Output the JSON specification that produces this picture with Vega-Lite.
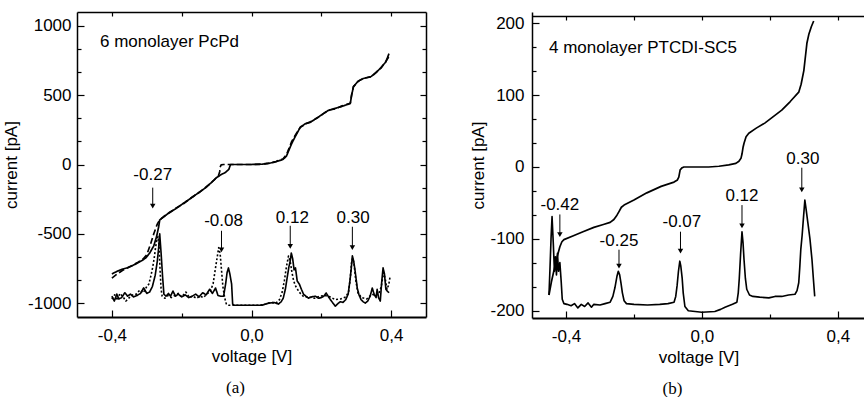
{
  "$schema": "https://vega.github.io/schema/vega-lite/v6.json",
  "background": "white",
  "padding": {"left": 2, "top": 11, "right": 0, "bottom": 0},
  "config": {
    "view": {"stroke": null},
    "font": "Liberation Sans",
    "axis": {"domainColor": "black", "domainWidth": 1.5, "tickColor": "black", "tickWidth": 1.2, "grid": false,
      "labelFont": "Liberation Sans", "labelFontSize": 17, "labelColor": "black", "labelOverlap": false, "labelFlush": false,
      "titleFont": "Liberation Sans", "titleFontSize": 17, "titleFontWeight": "normal", "titleColor": "black"},
    "title": {"font": "Liberation Serif", "fontSize": 17, "fontWeight": "normal", "color": "black"}
  },
  "spacing": 42,
  "datasets": {
    "a_curves": [
      {"v": -0.400, "I": -790, "s": "iv"}, {"v": -0.385, "I": -770, "s": "iv"}, {"v": -0.370, "I": -755, "s": "iv"}, {"v": -0.355, "I": -745, "s": "iv"},
      {"v": -0.343, "I": -732, "s": "iv"}, {"v": -0.330, "I": -715, "s": "iv"}, {"v": -0.315, "I": -695, "s": "iv"}, {"v": -0.303, "I": -674, "s": "iv"},
      {"v": -0.292, "I": -640, "s": "iv"}, {"v": -0.280, "I": -587, "s": "iv"}, {"v": -0.272, "I": -520, "s": "iv"}, {"v": -0.266, "I": -450, "s": "iv"},
      {"v": -0.263, "I": -400, "s": "iv"}, {"v": -0.250, "I": -375, "s": "iv"}, {"v": -0.235, "I": -345, "s": "iv"}, {"v": -0.217, "I": -319, "s": "iv"},
      {"v": -0.195, "I": -280, "s": "iv"}, {"v": -0.171, "I": -239, "s": "iv"}, {"v": -0.150, "I": -200, "s": "iv"}, {"v": -0.131, "I": -167, "s": "iv"},
      {"v": -0.115, "I": -130, "s": "iv"}, {"v": -0.100, "I": -94, "s": "iv"}, {"v": -0.085, "I": -70, "s": "iv"}, {"v": -0.075, "I": -58, "s": "iv"},
      {"v": -0.065, "I": -35, "s": "iv"}, {"v": -0.060, "I": 0, "s": "iv"}, {"v": -0.040, "I": 0, "s": "iv"}, {"v": 0.000, "I": 0, "s": "iv"},
      {"v": 0.030, "I": 2, "s": "iv"}, {"v": 0.050, "I": 8, "s": "iv"}, {"v": 0.070, "I": 20, "s": "iv"}, {"v": 0.090, "I": 36, "s": "iv"},
      {"v": 0.100, "I": 60, "s": "iv"}, {"v": 0.110, "I": 120, "s": "iv"}, {"v": 0.115, "I": 150, "s": "iv"}, {"v": 0.125, "I": 200, "s": "iv"},
      {"v": 0.140, "I": 270, "s": "iv"}, {"v": 0.155, "I": 295, "s": "iv"}, {"v": 0.169, "I": 305, "s": "iv"}, {"v": 0.190, "I": 340, "s": "iv"},
      {"v": 0.220, "I": 390, "s": "iv"}, {"v": 0.240, "I": 405, "s": "iv"}, {"v": 0.260, "I": 420, "s": "iv"}, {"v": 0.283, "I": 440, "s": "iv"},
      {"v": 0.287, "I": 500, "s": "iv"}, {"v": 0.292, "I": 560, "s": "iv"}, {"v": 0.305, "I": 600, "s": "iv"}, {"v": 0.320, "I": 620, "s": "iv"},
      {"v": 0.343, "I": 635, "s": "iv"}, {"v": 0.360, "I": 670, "s": "iv"}, {"v": 0.371, "I": 700, "s": "iv"}, {"v": 0.385, "I": 740, "s": "iv"},
      {"v": 0.394, "I": 800, "s": "iv"},

      {"v": -0.400, "I": -820, "s": "ivd"}, {"v": -0.385, "I": -790, "s": "ivd"}, {"v": -0.370, "I": -765, "s": "ivd"}, {"v": -0.355, "I": -745, "s": "ivd"},
      {"v": -0.340, "I": -725, "s": "ivd"}, {"v": -0.325, "I": -705, "s": "ivd"}, {"v": -0.310, "I": -680, "s": "ivd"}, {"v": -0.300, "I": -650, "s": "ivd"},
      {"v": -0.290, "I": -580, "s": "ivd"}, {"v": -0.280, "I": -500, "s": "ivd"}, {"v": -0.270, "I": -430, "s": "ivd"}, {"v": -0.263, "I": -400, "s": "ivd"},
      {"v": -0.250, "I": -372, "s": "ivd"}, {"v": -0.235, "I": -348, "s": "ivd"}, {"v": -0.217, "I": -315, "s": "ivd"}, {"v": -0.195, "I": -283, "s": "ivd"},
      {"v": -0.171, "I": -236, "s": "ivd"}, {"v": -0.150, "I": -203, "s": "ivd"}, {"v": -0.131, "I": -164, "s": "ivd"}, {"v": -0.115, "I": -132, "s": "ivd"},
      {"v": -0.100, "I": -94, "s": "ivd"}, {"v": -0.094, "I": -75, "s": "ivd"}, {"v": -0.091, "I": -50, "s": "ivd"}, {"v": -0.090, "I": -20, "s": "ivd"},
      {"v": -0.087, "I": -3, "s": "ivd"}, {"v": -0.080, "I": 0, "s": "ivd"}, {"v": 0.000, "I": 0, "s": "ivd"}, {"v": 0.030, "I": 3, "s": "ivd"},
      {"v": 0.050, "I": 10, "s": "ivd"}, {"v": 0.070, "I": 22, "s": "ivd"}, {"v": 0.090, "I": 40, "s": "ivd"}, {"v": 0.100, "I": 70, "s": "ivd"},
      {"v": 0.108, "I": 120, "s": "ivd"}, {"v": 0.115, "I": 165, "s": "ivd"}, {"v": 0.125, "I": 210, "s": "ivd"}, {"v": 0.140, "I": 268, "s": "ivd"},
      {"v": 0.155, "I": 292, "s": "ivd"}, {"v": 0.169, "I": 308, "s": "ivd"}, {"v": 0.190, "I": 338, "s": "ivd"}, {"v": 0.220, "I": 392, "s": "ivd"},
      {"v": 0.240, "I": 402, "s": "ivd"}, {"v": 0.260, "I": 423, "s": "ivd"}, {"v": 0.283, "I": 442, "s": "ivd"}, {"v": 0.287, "I": 505, "s": "ivd"},
      {"v": 0.292, "I": 562, "s": "ivd"}, {"v": 0.305, "I": 598, "s": "ivd"}, {"v": 0.320, "I": 622, "s": "ivd"}, {"v": 0.343, "I": 632, "s": "ivd"},
      {"v": 0.360, "I": 672, "s": "ivd"}, {"v": 0.371, "I": 695, "s": "ivd"}, {"v": 0.385, "I": 745, "s": "ivd"}, {"v": 0.397, "I": 790, "s": "ivd"},

      {"v": -0.400, "I": -950, "s": "g"}, {"v": -0.393, "I": -985, "s": "g"}, {"v": -0.386, "I": -935, "s": "g"}, {"v": -0.380, "I": -970, "s": "g"},
      {"v": -0.372, "I": -960, "s": "g"}, {"v": -0.363, "I": -925, "s": "g"}, {"v": -0.355, "I": -950, "s": "g"}, {"v": -0.347, "I": -935, "s": "g"},
      {"v": -0.338, "I": -955, "s": "g"}, {"v": -0.328, "I": -945, "s": "g"}, {"v": -0.318, "I": -930, "s": "g"}, {"v": -0.309, "I": -890, "s": "g"},
      {"v": -0.300, "I": -930, "s": "g"}, {"v": -0.292, "I": -920, "s": "g"}, {"v": -0.284, "I": -880, "s": "g"}, {"v": -0.276, "I": -800, "s": "g"},
      {"v": -0.270, "I": -700, "s": "g"}, {"v": -0.266, "I": -600, "s": "g"}, {"v": -0.263, "I": -500, "s": "g"}, {"v": -0.259, "I": -640, "s": "g"},
      {"v": -0.255, "I": -800, "s": "g"}, {"v": -0.251, "I": -935, "s": "g"}, {"v": -0.245, "I": -950, "s": "g"}, {"v": -0.238, "I": -930, "s": "g"},
      {"v": -0.232, "I": -950, "s": "g"}, {"v": -0.225, "I": -913, "s": "g"}, {"v": -0.218, "I": -950, "s": "g"}, {"v": -0.210, "I": -935, "s": "g"},
      {"v": -0.200, "I": -955, "s": "g"}, {"v": -0.190, "I": -940, "s": "g"}, {"v": -0.180, "I": -960, "s": "g"}, {"v": -0.170, "I": -950, "s": "g"},
      {"v": -0.160, "I": -935, "s": "g"}, {"v": -0.150, "I": -955, "s": "g"}, {"v": -0.140, "I": -925, "s": "g"}, {"v": -0.130, "I": -940, "s": "g"},
      {"v": -0.120, "I": -900, "s": "g"}, {"v": -0.112, "I": -930, "s": "g"}, {"v": -0.103, "I": -891, "s": "g"}, {"v": -0.096, "I": -945, "s": "g"},
      {"v": -0.088, "I": -950, "s": "g"}, {"v": -0.080, "I": -950, "s": "g"}, {"v": -0.074, "I": -860, "s": "g"}, {"v": -0.070, "I": -780, "s": "g"},
      {"v": -0.066, "I": -746, "s": "g"}, {"v": -0.062, "I": -790, "s": "g"}, {"v": -0.057, "I": -862, "s": "g"}, {"v": -0.054, "I": -1007, "s": "g"},
      {"v": -0.050, "I": -1015, "s": "g"}, {"v": 0.000, "I": -1015, "s": "g"}, {"v": 0.030, "I": -1015, "s": "g"}, {"v": 0.049, "I": -1000, "s": "g"},
      {"v": 0.065, "I": -995, "s": "g"}, {"v": 0.077, "I": -1007, "s": "g"}, {"v": 0.085, "I": -990, "s": "g"}, {"v": 0.091, "I": -964, "s": "g"},
      {"v": 0.097, "I": -900, "s": "g"}, {"v": 0.102, "I": -820, "s": "g"}, {"v": 0.107, "I": -740, "s": "g"}, {"v": 0.111, "I": -696, "s": "g"},
      {"v": 0.114, "I": -638, "s": "g"}, {"v": 0.118, "I": -680, "s": "g"}, {"v": 0.122, "I": -760, "s": "g"}, {"v": 0.126, "I": -746, "s": "g"},
      {"v": 0.131, "I": -841, "s": "g"}, {"v": 0.137, "I": -862, "s": "g"}, {"v": 0.143, "I": -900, "s": "g"}, {"v": 0.149, "I": -935, "s": "g"},
      {"v": 0.156, "I": -950, "s": "g"}, {"v": 0.163, "I": -964, "s": "g"}, {"v": 0.172, "I": -955, "s": "g"}, {"v": 0.183, "I": -950, "s": "g"},
      {"v": 0.192, "I": -965, "s": "g"}, {"v": 0.200, "I": -960, "s": "g"}, {"v": 0.207, "I": -950, "s": "g"}, {"v": 0.214, "I": -927, "s": "g"},
      {"v": 0.222, "I": -960, "s": "g"}, {"v": 0.229, "I": -985, "s": "g"}, {"v": 0.235, "I": -1005, "s": "g"}, {"v": 0.240, "I": -1022, "s": "g"},
      {"v": 0.247, "I": -1005, "s": "g"}, {"v": 0.254, "I": -990, "s": "g"}, {"v": 0.262, "I": -995, "s": "g"}, {"v": 0.270, "I": -975, "s": "g"},
      {"v": 0.277, "I": -935, "s": "g"}, {"v": 0.282, "I": -840, "s": "g"}, {"v": 0.286, "I": -746, "s": "g"}, {"v": 0.289, "I": -659, "s": "g"},
      {"v": 0.293, "I": -700, "s": "g"}, {"v": 0.297, "I": -770, "s": "g"}, {"v": 0.303, "I": -891, "s": "g"}, {"v": 0.308, "I": -940, "s": "g"},
      {"v": 0.314, "I": -975, "s": "g"}, {"v": 0.320, "I": -990, "s": "g"}, {"v": 0.326, "I": -1000, "s": "g"}, {"v": 0.333, "I": -985, "s": "g"},
      {"v": 0.340, "I": -950, "s": "g"}, {"v": 0.346, "I": -891, "s": "g"}, {"v": 0.352, "I": -940, "s": "g"}, {"v": 0.357, "I": -960, "s": "g"},
      {"v": 0.360, "I": -900, "s": "g"}, {"v": 0.364, "I": -960, "s": "g"}, {"v": 0.369, "I": -985, "s": "g"}, {"v": 0.373, "I": -850, "s": "g"},
      {"v": 0.377, "I": -746, "s": "g"}, {"v": 0.381, "I": -790, "s": "g"}, {"v": 0.385, "I": -900, "s": "g"}, {"v": 0.389, "I": -913, "s": "g"},
      {"v": 0.394, "I": -925, "s": "g"},

      {"v": -0.400, "I": -970, "s": "gd"}, {"v": -0.392, "I": -940, "s": "gd"}, {"v": -0.385, "I": -980, "s": "gd"}, {"v": -0.377, "I": -930, "s": "gd"},
      {"v": -0.368, "I": -955, "s": "gd"}, {"v": -0.360, "I": -985, "s": "gd"}, {"v": -0.350, "I": -960, "s": "gd"}, {"v": -0.340, "I": -940, "s": "gd"},
      {"v": -0.330, "I": -935, "s": "gd"}, {"v": -0.320, "I": -905, "s": "gd"}, {"v": -0.310, "I": -925, "s": "gd"}, {"v": -0.300, "I": -880, "s": "gd"},
      {"v": -0.294, "I": -862, "s": "gd"}, {"v": -0.288, "I": -800, "s": "gd"}, {"v": -0.283, "I": -740, "s": "gd"}, {"v": -0.279, "I": -680, "s": "gd"},
      {"v": -0.275, "I": -600, "s": "gd"}, {"v": -0.271, "I": -540, "s": "gd"}, {"v": -0.268, "I": -520, "s": "gd"}, {"v": -0.265, "I": -580, "s": "gd"},
      {"v": -0.262, "I": -760, "s": "gd"}, {"v": -0.259, "I": -900, "s": "gd"}, {"v": -0.256, "I": -950, "s": "gd"}, {"v": -0.248, "I": -965, "s": "gd"},
      {"v": -0.240, "I": -945, "s": "gd"}, {"v": -0.230, "I": -960, "s": "gd"}, {"v": -0.220, "I": -945, "s": "gd"}, {"v": -0.210, "I": -930, "s": "gd"},
      {"v": -0.200, "I": -955, "s": "gd"}, {"v": -0.188, "I": -920, "s": "gd"}, {"v": -0.178, "I": -960, "s": "gd"}, {"v": -0.168, "I": -950, "s": "gd"},
      {"v": -0.158, "I": -965, "s": "gd"}, {"v": -0.148, "I": -950, "s": "gd"}, {"v": -0.138, "I": -960, "s": "gd"}, {"v": -0.128, "I": -935, "s": "gd"},
      {"v": -0.118, "I": -915, "s": "gd"}, {"v": -0.110, "I": -860, "s": "gd"}, {"v": -0.104, "I": -760, "s": "gd"}, {"v": -0.099, "I": -680, "s": "gd"},
      {"v": -0.094, "I": -600, "s": "gd"}, {"v": -0.090, "I": -640, "s": "gd"}, {"v": -0.086, "I": -760, "s": "gd"}, {"v": -0.082, "I": -880, "s": "gd"},
      {"v": -0.077, "I": -960, "s": "gd"}, {"v": -0.072, "I": -1007, "s": "gd"}, {"v": -0.065, "I": -1015, "s": "gd"}, {"v": 0.020, "I": -1015, "s": "gd"},
      {"v": 0.040, "I": -1008, "s": "gd"}, {"v": 0.055, "I": -995, "s": "gd"}, {"v": 0.070, "I": -1000, "s": "gd"}, {"v": 0.080, "I": -975, "s": "gd"},
      {"v": 0.088, "I": -920, "s": "gd"}, {"v": 0.094, "I": -840, "s": "gd"}, {"v": 0.100, "I": -740, "s": "gd"}, {"v": 0.106, "I": -660, "s": "gd"},
      {"v": 0.111, "I": -700, "s": "gd"}, {"v": 0.116, "I": -780, "s": "gd"}, {"v": 0.121, "I": -841, "s": "gd"}, {"v": 0.127, "I": -880, "s": "gd"},
      {"v": 0.133, "I": -905, "s": "gd"}, {"v": 0.140, "I": -930, "s": "gd"}, {"v": 0.150, "I": -955, "s": "gd"}, {"v": 0.165, "I": -955, "s": "gd"},
      {"v": 0.180, "I": -965, "s": "gd"}, {"v": 0.195, "I": -950, "s": "gd"}, {"v": 0.210, "I": -945, "s": "gd"}, {"v": 0.225, "I": -955, "s": "gd"},
      {"v": 0.240, "I": -975, "s": "gd"}, {"v": 0.255, "I": -970, "s": "gd"}, {"v": 0.270, "I": -955, "s": "gd"}, {"v": 0.278, "I": -920, "s": "gd"},
      {"v": 0.283, "I": -820, "s": "gd"}, {"v": 0.287, "I": -700, "s": "gd"}, {"v": 0.290, "I": -675, "s": "gd"}, {"v": 0.294, "I": -720, "s": "gd"},
      {"v": 0.299, "I": -840, "s": "gd"}, {"v": 0.305, "I": -925, "s": "gd"}, {"v": 0.315, "I": -960, "s": "gd"}, {"v": 0.330, "I": -970, "s": "gd"},
      {"v": 0.345, "I": -935, "s": "gd"}, {"v": 0.355, "I": -945, "s": "gd"}, {"v": 0.365, "I": -930, "s": "gd"}, {"v": 0.372, "I": -880, "s": "gd"},
      {"v": 0.378, "I": -780, "s": "gd"}, {"v": 0.383, "I": -820, "s": "gd"}, {"v": 0.388, "I": -900, "s": "gd"}, {"v": 0.393, "I": -870, "s": "gd"},
      {"v": 0.397, "I": -810, "s": "gd"}
    ],
    "a_ann": [
      {"v": -0.283, "top": -167, "tip": -300, "tv": -0.283, "ty": -78, "label": "-0.27"},
      {"v": -0.086, "top": -478, "tip": -615, "tv": -0.080, "ty": -406, "label": "-0.08"},
      {"v": 0.111, "top": -442, "tip": -590, "tv": 0.117, "ty": -388, "label": "0.12"},
      {"v": 0.289, "top": -449, "tip": -600, "tv": 0.291, "ty": -388, "label": "0.30"}
    ],
    "b_curves": [
      {"v": -0.450, "I": -178, "s": "iv"}, {"v": -0.443, "I": -160, "s": "iv"}, {"v": -0.435, "I": -143, "s": "iv"}, {"v": -0.430, "I": -132, "s": "iv"},
      {"v": -0.426, "I": -125, "s": "iv"}, {"v": -0.422, "I": -118, "s": "iv"}, {"v": -0.418, "I": -111, "s": "iv"}, {"v": -0.412, "I": -104, "s": "iv"},
      {"v": -0.406, "I": -101, "s": "iv"}, {"v": -0.380, "I": -96, "s": "iv"}, {"v": -0.350, "I": -90, "s": "iv"}, {"v": -0.318, "I": -84, "s": "iv"},
      {"v": -0.290, "I": -80, "s": "iv"}, {"v": -0.270, "I": -77, "s": "iv"}, {"v": -0.259, "I": -73, "s": "iv"}, {"v": -0.250, "I": -67, "s": "iv"},
      {"v": -0.244, "I": -62, "s": "iv"}, {"v": -0.237, "I": -56, "s": "iv"}, {"v": -0.229, "I": -53, "s": "iv"}, {"v": -0.200, "I": -46, "s": "iv"},
      {"v": -0.162, "I": -36, "s": "iv"}, {"v": -0.120, "I": -27, "s": "iv"}, {"v": -0.082, "I": -21, "s": "iv"}, {"v": -0.072, "I": -18, "s": "iv"},
      {"v": -0.068, "I": -14, "s": "iv"}, {"v": -0.064, "I": -4, "s": "iv"}, {"v": -0.058, "I": -1, "s": "iv"}, {"v": -0.053, "I": 0, "s": "iv"},
      {"v": 0.000, "I": 0, "s": "iv"}, {"v": 0.020, "I": 0, "s": "iv"}, {"v": 0.050, "I": 1, "s": "iv"}, {"v": 0.079, "I": 3, "s": "iv"},
      {"v": 0.100, "I": 5, "s": "iv"}, {"v": 0.109, "I": 8, "s": "iv"}, {"v": 0.115, "I": 12, "s": "iv"}, {"v": 0.118, "I": 18, "s": "iv"},
      {"v": 0.121, "I": 27, "s": "iv"}, {"v": 0.124, "I": 33, "s": "iv"}, {"v": 0.130, "I": 42, "s": "iv"}, {"v": 0.138, "I": 47, "s": "iv"},
      {"v": 0.160, "I": 54, "s": "iv"}, {"v": 0.185, "I": 61, "s": "iv"}, {"v": 0.210, "I": 70, "s": "iv"}, {"v": 0.235, "I": 79, "s": "iv"},
      {"v": 0.260, "I": 91, "s": "iv"}, {"v": 0.285, "I": 104, "s": "iv"}, {"v": 0.292, "I": 115, "s": "iv"}, {"v": 0.300, "I": 134, "s": "iv"},
      {"v": 0.305, "I": 155, "s": "iv"}, {"v": 0.309, "I": 172, "s": "iv"}, {"v": 0.315, "I": 185, "s": "iv"}, {"v": 0.322, "I": 195, "s": "iv"},
      {"v": 0.329, "I": 203, "s": "iv"},

      {"v": -0.450, "I": -178, "s": "g"}, {"v": -0.447, "I": -140, "s": "g"}, {"v": -0.444, "I": -100, "s": "g"}, {"v": -0.441, "I": -69, "s": "g"},
      {"v": -0.437, "I": -110, "s": "g"}, {"v": -0.434, "I": -145, "s": "g"}, {"v": -0.431, "I": -125, "s": "g"}, {"v": -0.428, "I": -150, "s": "g"},
      {"v": -0.425, "I": -120, "s": "g"}, {"v": -0.422, "I": -145, "s": "g"}, {"v": -0.418, "I": -133, "s": "g"}, {"v": -0.414, "I": -160, "s": "g"},
      {"v": -0.411, "I": -184, "s": "g"}, {"v": -0.406, "I": -190, "s": "g"}, {"v": -0.397, "I": -191, "s": "g"}, {"v": -0.385, "I": -193, "s": "g"},
      {"v": -0.375, "I": -190, "s": "g"}, {"v": -0.365, "I": -196, "s": "g"}, {"v": -0.355, "I": -191, "s": "g"}, {"v": -0.345, "I": -194, "s": "g"},
      {"v": -0.335, "I": -189, "s": "g"}, {"v": -0.325, "I": -195, "s": "g"}, {"v": -0.318, "I": -191, "s": "g"}, {"v": -0.300, "I": -192, "s": "g"},
      {"v": -0.285, "I": -190, "s": "g"}, {"v": -0.270, "I": -188, "s": "g"}, {"v": -0.262, "I": -180, "s": "g"}, {"v": -0.256, "I": -168, "s": "g"},
      {"v": -0.250, "I": -152, "s": "g"}, {"v": -0.246, "I": -145, "s": "g"}, {"v": -0.242, "I": -150, "s": "g"}, {"v": -0.238, "I": -162, "s": "g"},
      {"v": -0.234, "I": -175, "s": "g"}, {"v": -0.229, "I": -186, "s": "g"}, {"v": -0.222, "I": -190, "s": "g"}, {"v": -0.200, "I": -191, "s": "g"},
      {"v": -0.160, "I": -192, "s": "g"}, {"v": -0.124, "I": -191, "s": "g"}, {"v": -0.100, "I": -190, "s": "g"}, {"v": -0.082, "I": -188, "s": "g"},
      {"v": -0.077, "I": -180, "s": "g"}, {"v": -0.073, "I": -165, "s": "g"}, {"v": -0.069, "I": -145, "s": "g"}, {"v": -0.065, "I": -131, "s": "g"},
      {"v": -0.062, "I": -138, "s": "g"}, {"v": -0.058, "I": -155, "s": "g"}, {"v": -0.055, "I": -175, "s": "g"}, {"v": -0.050, "I": -194, "s": "g"},
      {"v": -0.040, "I": -200, "s": "g"}, {"v": 0.000, "I": -202, "s": "g"}, {"v": 0.038, "I": -201, "s": "g"}, {"v": 0.055, "I": -198, "s": "g"},
      {"v": 0.068, "I": -195, "s": "g"}, {"v": 0.090, "I": -191, "s": "g"}, {"v": 0.103, "I": -188, "s": "g"}, {"v": 0.107, "I": -175, "s": "g"},
      {"v": 0.110, "I": -155, "s": "g"}, {"v": 0.114, "I": -120, "s": "g"}, {"v": 0.118, "I": -90, "s": "g"}, {"v": 0.121, "I": -105, "s": "g"},
      {"v": 0.124, "I": -129, "s": "g"}, {"v": 0.128, "I": -155, "s": "g"}, {"v": 0.132, "I": -170, "s": "g"}, {"v": 0.140, "I": -178, "s": "g"},
      {"v": 0.150, "I": -180, "s": "g"}, {"v": 0.170, "I": -181, "s": "g"}, {"v": 0.197, "I": -182, "s": "g"}, {"v": 0.215, "I": -180, "s": "g"},
      {"v": 0.235, "I": -180, "s": "g"}, {"v": 0.255, "I": -178, "s": "g"}, {"v": 0.274, "I": -177, "s": "g"}, {"v": 0.280, "I": -172, "s": "g"},
      {"v": 0.285, "I": -161, "s": "g"}, {"v": 0.288, "I": -140, "s": "g"}, {"v": 0.291, "I": -115, "s": "g"}, {"v": 0.295, "I": -95, "s": "g"},
      {"v": 0.299, "I": -70, "s": "g"}, {"v": 0.303, "I": -46, "s": "g"}, {"v": 0.307, "I": -60, "s": "g"}, {"v": 0.312, "I": -78, "s": "g"},
      {"v": 0.318, "I": -100, "s": "g"}, {"v": 0.324, "I": -129, "s": "g"}, {"v": 0.328, "I": -155, "s": "g"}, {"v": 0.332, "I": -180, "s": "g"}
    ],
    "b_ann": [
      {"v": -0.418, "top": -66, "tip": -94, "tv": -0.418, "ty": -53, "label": "-0.42"},
      {"v": -0.244, "top": -115, "tip": -138, "tv": -0.244, "ty": -103, "label": "-0.25"},
      {"v": -0.063, "top": -90, "tip": -117, "tv": -0.059, "ty": -77, "label": "-0.07"},
      {"v": 0.118, "top": -53, "tip": -82, "tv": 0.118, "ty": -41, "label": "0.12"},
      {"v": 0.294, "top": -1, "tip": -32, "tv": 0.297, "ty": 11, "label": "0.30"}
    ]
  },
  "hconcat": [
    {
      "width": 349,
      "height": 305,
      "title": {"text": "(a)", "orient": "bottom", "frame": "group", "anchor": "middle", "dx": -16, "offset": 16},
      "resolve": {"axis": {"x": "independent", "y": "independent"}},
      "layer": [
        {
          "data": {"name": "a_curves"},
          "mark": {"type": "line", "color": "black", "strokeJoin": "round"},
          "encoding": {
            "x": {"field": "v", "type": "quantitative", "scale": {"domain": [-0.5, 0.5], "nice": false, "zero": false},
              "axis": {"orient": "bottom", "values": [-0.4, -0.2, 0, 0.2, 0.4], "domainWidth": 2,
                "labelExpr": "abs(round(datum.value*10) % 4) == 0 ? (datum.value < -0.001 ? '-' : '') + replace(format(abs(datum.value), '.1f'), '.', ',') : ''",
                "tickSize": {"condition": {"test": "abs(round(datum.value*10) % 4) == 0", "value": -7}, "value": -4},
                "labelPadding": 17, "title": "voltage [V]", "titlePadding": 2}},
            "y": {"field": "I", "type": "quantitative", "scale": {"domain": [-1100, 1100], "nice": false, "zero": false},
              "axis": {"orient": "left", "values": [-1000, -833.333, -666.667, -500, -333.333, -166.667, 0, 166.667, 333.333, 500, 666.667, 833.333, 1000],
                "labelExpr": "abs(round(datum.value) % 500) < 1 ? (datum.value < -1 ? '-' : '') + format(abs(round(datum.value)), 'd') : ''",
                "tickSize": {"condition": {"test": "abs(round(datum.value) % 500) < 1", "value": -7}, "value": -4},
                "labelPadding": 13, "title": "current [pA]", "titlePadding": 7}},
            "detail": {"field": "s", "type": "nominal"},
            "strokeDash": {"field": "s", "type": "nominal", "scale": {"domain": ["iv", "ivd", "g", "gd"], "range": [[1, 0], [6, 3], [1, 0], [2, 2]]}, "legend": null},
            "strokeWidth": {"field": "s", "type": "ordinal", "scale": {"domain": ["iv", "ivd", "g", "gd"], "range": [1.7, 1.6, 1.1, 1.1]}, "legend": null}
          }
        },
        {
          "data": {"name": "a_ann"},
          "mark": {"type": "rule", "color": "black", "strokeWidth": 1},
          "encoding": {
            "x": {"field": "v", "type": "quantitative", "scale": {"domain": [-0.5, 0.5], "nice": false, "zero": false}, "axis": null},
            "y": {"field": "top", "type": "quantitative", "scale": {"domain": [-1100, 1100], "nice": false, "zero": false}, "axis": null},
            "y2": {"field": "tip"}
          }
        },
        {
          "data": {"name": "a_ann"},
          "mark": {"type": "point", "shape": "triangle-down", "filled": true, "size": 30, "color": "black", "opacity": 1},
          "encoding": {
            "x": {"field": "v", "type": "quantitative", "scale": {"domain": [-0.5, 0.5], "nice": false, "zero": false}, "axis": null},
            "y": {"field": "tip", "type": "quantitative", "scale": {"domain": [-1100, 1100], "nice": false, "zero": false}, "axis": null}
          }
        },
        {
          "data": {"name": "a_ann"},
          "mark": {"type": "text", "fontSize": 17, "font": "Liberation Sans", "baseline": "middle", "align": "center", "color": "black"},
          "encoding": {
            "x": {"field": "tv", "type": "quantitative", "scale": {"domain": [-0.5, 0.5], "nice": false, "zero": false},
              "axis": {"orient": "top", "values": [-0.4, -0.2, 0, 0.2, 0.4], "labels": false, "title": null, "tickSize": -4, "minExtent": 0}},
            "y": {"field": "ty", "type": "quantitative", "scale": {"domain": [-1100, 1100], "nice": false, "zero": false},
              "axis": {"orient": "right", "values": [-1000, -833.333, -666.667, -500, -333.333, -166.667, 0, 166.667, 333.333, 500, 666.667, 833.333, 1000],
                "labels": false, "title": null, "minExtent": 0,
                "tickSize": {"condition": {"test": "abs(round(datum.value) % 500) < 1", "value": -6}, "value": -4}}},
            "text": {"field": "label", "type": "nominal"}
          }
        },
        {
          "data": {"values": [{"v": -0.434, "I": 884, "t": "6 monolayer PcPd"}]},
          "mark": {"type": "text", "fontSize": 17, "font": "Liberation Sans", "baseline": "middle", "align": "left", "color": "black"},
          "encoding": {
            "x": {"field": "v", "type": "quantitative", "scale": {"domain": [-0.5, 0.5], "nice": false, "zero": false}, "axis": null},
            "y": {"field": "I", "type": "quantitative", "scale": {"domain": [-1100, 1100], "nice": false, "zero": false}, "axis": null},
            "text": {"field": "t", "type": "nominal"}
          }
        }
      ]
    },
    {
      "width": 333,
      "height": 306,
      "title": {"text": "(b)", "orient": "bottom", "frame": "group", "anchor": "middle", "dx": -26, "offset": 16},
      "resolve": {"axis": {"x": "independent", "y": "independent"}},
      "layer": [
        {
          "data": {"name": "b_curves"},
          "mark": {"type": "line", "color": "black", "strokeJoin": "round"},
          "encoding": {
            "x": {"field": "v", "type": "quantitative", "scale": {"domain": [-0.5, 0.48], "nice": false, "zero": false},
              "axis": {"orient": "bottom", "values": [-0.4, -0.2, 0, 0.2, 0.4], "domainWidth": 2,
                "labelExpr": "abs(round(datum.value*10) % 4) == 0 ? (datum.value < -0.001 ? '-' : '') + replace(format(abs(datum.value), '.1f'), '.', ',') : ''",
                "tickSize": {"condition": {"test": "abs(round(datum.value*10) % 4) == 0", "value": -7}, "value": -4},
                "labelPadding": 17, "title": "voltage [V]", "titlePadding": 2}},
            "y": {"field": "I", "type": "quantitative", "scale": {"domain": [-210, 215.5], "nice": false, "zero": false},
              "axis": {"orient": "left", "values": [-200, -166.667, -133.333, -100, -66.667, -33.333, 0, 33.333, 66.667, 100, 133.333, 166.667, 200],
                "labelExpr": "abs(round(datum.value) % 100) < 1 ? (datum.value < -1 ? '-' : '') + format(abs(round(datum.value)), 'd') : ''",
                "tickSize": {"condition": {"test": "abs(round(datum.value) % 100) < 1", "value": -7}, "value": -4},
                "labelPadding": 15, "title": "current [pA]", "titlePadding": 2}},
            "detail": {"field": "s", "type": "nominal"},
            "strokeWidth": {"field": "s", "type": "ordinal", "scale": {"domain": ["iv", "g"], "range": [1.7, 1.1]}, "legend": null}
          }
        },
        {
          "data": {"name": "b_ann"},
          "mark": {"type": "rule", "color": "black", "strokeWidth": 1},
          "encoding": {
            "x": {"field": "v", "type": "quantitative", "scale": {"domain": [-0.5, 0.48], "nice": false, "zero": false}, "axis": null},
            "y": {"field": "top", "type": "quantitative", "scale": {"domain": [-210, 215.5], "nice": false, "zero": false}, "axis": null},
            "y2": {"field": "tip"}
          }
        },
        {
          "data": {"name": "b_ann"},
          "mark": {"type": "point", "shape": "triangle-down", "filled": true, "size": 30, "color": "black", "opacity": 1},
          "encoding": {
            "x": {"field": "v", "type": "quantitative", "scale": {"domain": [-0.5, 0.48], "nice": false, "zero": false}, "axis": null},
            "y": {"field": "tip", "type": "quantitative", "scale": {"domain": [-210, 215.5], "nice": false, "zero": false}, "axis": null}
          }
        },
        {
          "data": {"name": "b_ann"},
          "mark": {"type": "text", "fontSize": 17, "font": "Liberation Sans", "baseline": "middle", "align": "center", "color": "black"},
          "encoding": {
            "x": {"field": "tv", "type": "quantitative", "scale": {"domain": [-0.5, 0.48], "nice": false, "zero": false},
              "axis": {"orient": "top", "values": [-0.4, -0.2, 0, 0.2, 0.4], "labels": false, "title": null, "tickSize": -4, "minExtent": 0, "offset": -4}},
            "y": {"field": "ty", "type": "quantitative", "scale": {"domain": [-210, 215.5], "nice": false, "zero": false}, "axis": null},
            "text": {"field": "label", "type": "nominal"}
          }
        },
        {
          "data": {"values": [{"v": -0.45, "I": 166, "t": "4 monolayer PTCDI-SC5"}]},
          "mark": {"type": "text", "fontSize": 17, "font": "Liberation Sans", "baseline": "middle", "align": "left", "color": "black"},
          "encoding": {
            "x": {"field": "v", "type": "quantitative", "scale": {"domain": [-0.5, 0.48], "nice": false, "zero": false}, "axis": null},
            "y": {"field": "I", "type": "quantitative", "scale": {"domain": [-210, 215.5], "nice": false, "zero": false}, "axis": null},
            "text": {"field": "t", "type": "nominal"}
          }
        }
      ]
    }
  ]
}
